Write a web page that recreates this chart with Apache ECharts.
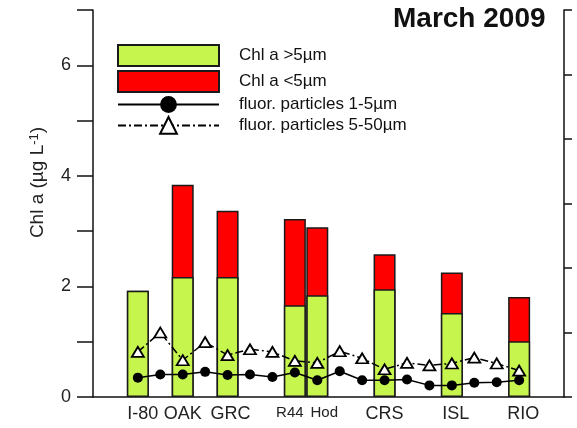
<!DOCTYPE html>
<html>
<head>
<meta charset="utf-8">
<script src="https://cdn.jsdelivr.net/npm/echarts@6/dist/echarts.min.js"></script>
<style>
  html, body { margin: 0; padding: 0; background: #fff; }
  #chart { width: 577px; height: 428px; }
</style>
</head>
<body>
<div id="chart"></div>
<script>
// Sampling stations along the transect and their position on the x scale
const stations = ['I-80', 'OAK', 'GRC', 'R44', 'Hod', 'CRS', 'ISL', 'RIO'];
const stationX = [2, 4, 6, 9, 10, 13, 16, 19];

// Size-fractionated chlorophyll a (µg/L)
const chlLarge = [1.92, 2.17, 2.17, 1.66, 1.84, 1.95, 1.52, 1.01]; // > 5 µm
const chlSmall = [0.00, 1.67, 1.20, 1.56, 1.23, 0.63, 0.73, 0.80]; // < 5 µm

// Fluorescent particle counts (right-hand scale), one per sample point
const sampleX = [2, 3, 4, 5, 6, 7, 8, 9, 10, 11, 12, 13, 14, 15, 16, 17, 18, 19];
const particles1to5 = [0.30, 0.35, 0.35, 0.39, 0.34, 0.35, 0.31, 0.38, 0.26, 0.40, 0.26, 0.26, 0.27, 0.18, 0.18, 0.22, 0.23, 0.26];
const particles5to50 = [0.70, 1.00, 0.57, 0.85, 0.65, 0.74, 0.70, 0.56, 0.53, 0.71, 0.60, 0.43, 0.53, 0.49, 0.52, 0.61, 0.52, 0.41];

const FONT = 'Liberation Sans, Arial, sans-serif';

// Label styling: the two neighbouring stations get a smaller font and are
// pushed apart a little so their names do not run together.
const labelStyle = {
  'R44': { fontSize: 15, padding: [0, 10, 0, 0] },
  'Hod': { fontSize: 15, padding: [0, 0, 0, 14] },
  'I-80': { fontSize: 18, padding: [0, 0, 0, 10] },
  'GRC': { fontSize: 18, padding: [0, 0, 0, 6] },
  'ISL': { fontSize: 18, padding: [0, 0, 0, 8] },
  'RIO': { fontSize: 18, padding: [0, 0, 0, 8] }
};
const richStyles = {};
Object.keys(labelStyle).forEach((k, i) => {
  richStyles['t' + i] = Object.assign({ fontFamily: FONT, color: '#222' }, labelStyle[k]);
});

// Total bar (red) drawn first, >5 µm fraction overlaid on its lower part
const totalData = stationX.map((x, i) => [x, +(chlLarge[i] + chlSmall[i]).toFixed(3)]);
const largeData = stationX.map((x, i) => [x, chlLarge[i]]);

const chart = echarts.init(document.getElementById('chart'), null, { renderer: 'canvas' });

chart.setOption({
  animation: false,
  backgroundColor: '#fff',
  title: {
    text: 'March 2009',
    left: 393,
    top: 5,
    padding: 0,
    textStyle: { fontFamily: FONT, fontSize: 28, fontWeight: 'bold', color: '#111' }
  },
  legend: {
    orient: 'vertical',
    left: 117,
    top: 44,
    itemWidth: 101,
    itemHeight: 21,
    itemGap: 3,
    selectedMode: false,
    padding: 0,
    textStyle: { fontFamily: FONT, fontSize: 17, color: '#111', padding: [0, 0, 0, 15] },
    data: [
      { name: 'Chl a >5µm', icon: 'rect' },
      { name: 'Chl a <5µm', icon: 'rect' },
      { name: 'fluor. particles 1-5µm' },
      { name: 'fluor. particles 5-50µm' }
    ]
  },
  grid: { left: 93, right: 13, top: 10, bottom: 31 },
  xAxis: {
    type: 'value',
    min: 0,
    max: 21,
    splitLine: { show: false },
    axisLine: { lineStyle: { color: '#111', width: 1.5 } },
    axisTick: { show: false },
    axisLabel: {
      customValues: stationX,
      margin: 8,
      fontFamily: FONT,
      fontSize: 18,
      color: '#222',
      formatter: function (v) {
        const i = stationX.indexOf(v);
        if (i < 0) return '';
        const name = stations[i];
        const k = Object.keys(labelStyle).indexOf(name);
        return k >= 0 ? '{t' + k + '|' + name + '}' : name;
      },
      rich: richStyles
    }
  },
  yAxis: [
    {
      type: 'value',
      min: 0,
      max: 7,
      interval: 1,
      splitLine: { show: false },
      axisLine: { show: true, lineStyle: { color: '#111', width: 1.5 } },
      axisTick: { show: true, length: 16, lineStyle: { color: '#111', width: 1.5 } },
      axisLabel: {
        margin: 22,
        fontFamily: FONT,
        fontSize: 18,
        color: '#222',
        formatter: v => (v % 2 === 0 ? String(v) : '')
      },
      name: 'Chl a (µg L{sup|-1})',
      nameLocation: 'middle',
      nameGap: 46,
      nameTextStyle: {
        fontFamily: FONT,
        fontSize: 19,
        color: '#222',
        padding: [0, 0, 0, 42],
        rich: { sup: { fontFamily: FONT, fontSize: 13, color: '#222', verticalAlign: 'top', padding: [0, 0, 6, 0] } }
      }
    },
    {
      type: 'value',
      min: 0,
      max: 6,
      interval: 1,
      position: 'right',
      splitLine: { show: false },
      axisLine: { show: true, lineStyle: { color: '#111', width: 1.5 } },
      axisTick: { show: true, length: 8, lineStyle: { color: '#111', width: 1.5 } },
      axisLabel: { show: false }
    }
  ],
  series: [
    {
      name: 'Chl a <5µm',
      type: 'bar',
      barWidth: 22,
      barGap: '-100%',
      data: totalData,
      itemStyle: { color: '#ff0000', borderColor: '#1a1a1a', borderWidth: 1.5 }
    },
    {
      name: 'Chl a >5µm',
      type: 'bar',
      barWidth: 22,
      barGap: '-100%',
      data: largeData,
      itemStyle: { color: '#c6f54e', borderColor: '#1a1a1a', borderWidth: 1.5 }
    },
    {
      name: 'fluor. particles 1-5µm',
      type: 'line',
      yAxisIndex: 1,
      data: sampleX.map((x, i) => [x, particles1to5[i]]),
      symbol: 'circle',
      symbolSize: 10,
      lineStyle: { color: '#000', width: 1.5 },
      itemStyle: { color: '#000', borderColor: '#000', borderWidth: 0 },
      z: 5
    },
    {
      name: 'fluor. particles 5-50µm',
      type: 'line',
      yAxisIndex: 1,
      data: sampleX.map((x, i) => [x, particles5to50[i]]),
      symbol: 'triangle',
      symbolSize: [12, 10],
      lineStyle: { color: '#000', width: 1.5, type: [8, 3, 2, 3] },
      itemStyle: { color: '#fff', borderColor: '#000', borderWidth: 1.8 },
      z: 5
    }
  ]
});
</script>
</body>
</html>
